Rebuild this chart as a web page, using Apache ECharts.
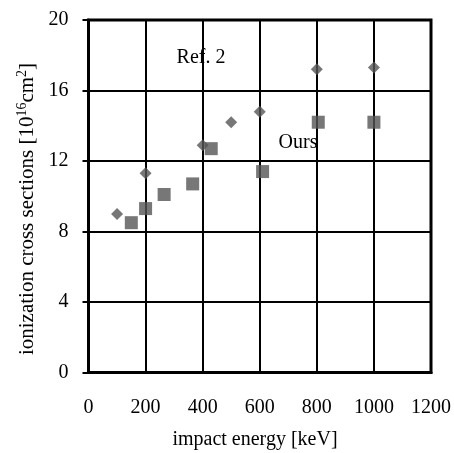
<!DOCTYPE html>
<html>
<head>
<meta charset="utf-8">
<script src="https://cdn.jsdelivr.net/npm/echarts@6/dist/echarts.min.js"></script>
<style>html,body{margin:0;padding:0;background:#fff;}#c{width:454px;height:453px;}</style>
</head>
<body>
<div id="c"></div>
<script>
var refEnergy = [100, 200, 400, 500, 600, 800, 1000];
var refValues = [9.0, 11.3, 12.9, 14.2, 14.8, 17.2, 17.3];
var oursEnergy = [150, 200, 265, 365, 430, 610, 805, 1000];
var oursValues = [8.5, 9.3, 10.1, 10.7, 12.7, 11.4, 14.2, 14.2];
var xTicks = [0, 200, 400, 600, 800, 1000, 1200];
var yTicks = [0, 4, 8, 12, 16, 20];

function pairs(xs, ys) { return xs.map(function (x, i) { return [x, ys[i]]; }); }

var FONT = 'Liberation Serif';
var chart = echarts.init(document.getElementById('c'));
chart.setOption({
  animation: false,
  grid: { left: 88.5, right: 23, top: 20, bottom: 80.5, show: true, borderColor: '#000', borderWidth: 3, containLabel: false },
  xAxis: {
    type: 'value', min: xTicks[0], max: xTicks[xTicks.length - 1], interval: 200,
    axisLine: { show: true, lineStyle: { color: '#000', width: 3 } },
    axisTick: { show: false },
    splitLine: { show: true, lineStyle: { color: '#000', width: 2 } },
    axisLabel: { color: '#000', fontFamily: FONT, fontSize: 20, margin: 25, formatter: function (v) { return String(v); } }
  },
  yAxis: {
    type: 'value', min: yTicks[0], max: yTicks[yTicks.length - 1], interval: 4,
    axisLine: { show: true, lineStyle: { color: '#000', width: 3 } },
    axisTick: { show: true, inside: false, length: 6, lineStyle: { color: '#000', width: 2 } },
    splitLine: { show: true, lineStyle: { color: '#000', width: 2 } },
    axisLabel: { color: '#000', fontFamily: FONT, fontSize: 20, margin: 20, formatter: function (v) { return String(v); } }
  },
  series: [
    { name: 'Ref. 2', type: 'scatter', symbol: 'diamond', symbolSize: 12,
      itemStyle: { color: '#555555' }, data: pairs(refEnergy, refValues), z: 5 },
    { name: 'Ours', type: 'scatter', symbol: 'rect', symbolSize: 13,
      itemStyle: { color: '#555555' }, data: pairs(oursEnergy, oursValues), z: 5 }
  ],
  graphic: [
    { type: 'text', x: 201, y: 58, z: 10, style: { text: 'Ref. 2', fontFamily: FONT, fontSize: 20, fill: '#000', align: 'center', verticalAlign: 'middle' } },
    { type: 'text', x: 298, y: 143, z: 10, style: { text: 'Ours', fontFamily: FONT, fontSize: 20, fill: '#000', align: 'center', verticalAlign: 'middle' } },
    { type: 'text', x: 255, y: 440, style: { text: 'impact energy [keV]', fontFamily: FONT, fontSize: 20, fill: '#000', align: 'center', verticalAlign: 'middle' } },
    { type: 'text', x: 27, y: 209, rotation: Math.PI / 2,
      style: { text: 'ionization cross sections [10{sup|16}cm{sup|2}]', fontFamily: FONT, fontSize: 21, fill: '#000', align: 'center', verticalAlign: 'middle',
        rich: { sup: { fontFamily: FONT, fontSize: 14, fill: '#000', padding: [0, 0, 9, 0] } } } }
  ]
});
</script>
</body>
</html>
